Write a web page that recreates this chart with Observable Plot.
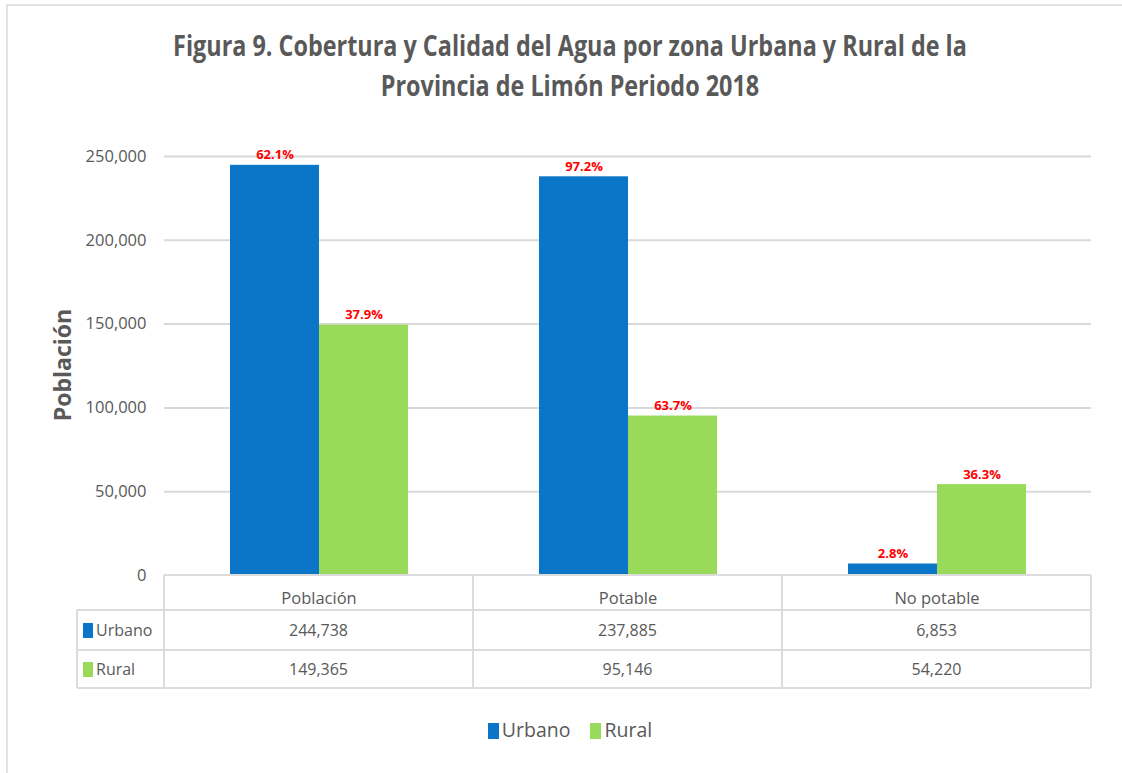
<!DOCTYPE html>
<html>
<head>
<meta charset="utf-8">
<script src="https://cdn.jsdelivr.net/npm/d3@7"></script>
<script src="https://cdn.jsdelivr.net/npm/@observablehq/plot@0.6"></script>
<style>
  html, body { margin: 0; padding: 0; background: #fff; }
  body { width: 1122px; height: 773px; position: relative; overflow: hidden; font-family: "Open Sans", sans-serif; color: #595959; }
  #frame { position: absolute; left: 6px; top: 4px; width: 1200px; height: 900px; border-left: 2px solid #e2e2e2; border-top: 2px solid #e2e2e2; }
  #title { position: absolute; top: 25px; left: 0; width: 1140px; text-align: center; font-family: "Open Sans", sans-serif; font-weight: bold; font-size: 28px; line-height: 40px; color: #595959; transform: scaleX(0.835); transform-origin: 570px 0; }
  #chart { position: absolute; top: 120px; left: 0; }
  #ylabel { position: absolute; left: 62px; top: 365px; transform: translate(-50%, -50%) rotate(-90deg); font-weight: bold; font-size: 23px; white-space: nowrap; }
  #table { position: absolute; left: 0; top: 0; }
  .hl, .vl { position: absolute; background: #dcdcdc; }
  .cell { position: absolute; text-align: center; font-size: 16px; white-space: nowrap; }
  .key { display: inline-block; vertical-align: -2px; margin-right: 3px; }
  #legend { position: absolute; top: 716px; left: 0; width: 1140px; text-align: center; font-size: 19.5px; }
  #legend span.item { margin: 0 10px; }
</style>
</head>
<body>
<div id="frame"></div>
<div id="title"></div>
<div id="chart"></div>
<div id="ylabel"></div>
<div id="table"></div>
<div id="legend"></div>
<script>
const titleLines = ["Figura 9. Cobertura y Calidad del Agua por zona Urbana y Rural de la", "Provincia de Limón Periodo 2018"];
const yLabel = "Población";
const categories = ["Población", "Potable", "No potable"];
const zones = ["Urbano", "Rural"];
const urbano = [244738, 237885, 6853];
const rural = [149365, 95146, 54220];
const urbanoPct = ["62.1%", "97.2%", "2.8%"];
const ruralPct = ["37.9%", "63.7%", "36.3%"];
const yTicks = [0, 50000, 100000, 150000, 200000, 250000];
const zoneColors = ["#0B75C7", "#9ADA5A"];

const fmt = d3.format(",");
const seriesValues = {Urbano: urbano, Rural: rural};
const seriesPct = {Urbano: urbanoPct, Rural: ruralPct};

const data = categories.flatMap((c, i) => zones.map(z => ({cat: c, zone: z, value: seriesValues[z][i], pct: seriesPct[z][i]})));

document.getElementById("title").innerHTML = titleLines.join("<br>");
document.getElementById("ylabel").textContent = yLabel;

// Layout constants
const W = 1122, H = 490, ML = 163, MR = 30, MT = 36, MB = 35;
const chartTop = 120;

const plot = Plot.plot({
  width: W, height: H,
  marginLeft: ML, marginRight: MR, marginTop: MT, marginBottom: MB,
  style: {fontFamily: "'Open Sans', sans-serif", color: "#595959", background: "transparent", overflow: "visible"},
  fx: {domain: categories, padding: 0, label: null},
  x: {domain: zones, paddingInner: 0, paddingOuter: 0.73, axis: null},
  y: {domain: [0, 250000], label: null},
  color: {domain: zones, range: zoneColors},
  marks: [
    Plot.gridY(yTicks.filter(d => d > 0), {stroke: "#d9d9d9", strokeOpacity: 1, strokeWidth: 2}),
    Plot.axisY(yTicks, {tickFormat: fmt, tickSize: 0, tickPadding: 18, fontSize: 16.5, label: null}),
    Plot.axisFx({anchor: "bottom", tickSize: 0, tickPadding: 17, fontSize: 16.5, label: null}),
    Plot.barY(data, {fx: "cat", x: "zone", y: "value", fill: "zone"}),
    Plot.text(data, {fx: "cat", x: "zone", y: "value", text: "pct", dy: -6, lineAnchor: "bottom", fill: "#FF0000", fontWeight: "bold", fontSize: 13})
  ]
});
document.getElementById("chart").appendChild(plot);

// Data table under the chart, aligned with the facet scale
const fxScale = plot.scale("fx");
const facetStep = fxScale.bandwidth;
const colEdges = categories.map(c => fxScale.apply(c));
const x0 = colEdges[0];
const rightEdge = colEdges[colEdges.length - 1] + facetStep;
const axisY = chartTop + H - MB;          // 575
const rowTops = [axisY, axisY + 35, axisY + 75, axisY + 113];
const leftCol = 77;
const table = document.getElementById("table");
function addDiv(cls, style, html) {
  const d = document.createElement("div");
  d.className = cls;
  Object.assign(d.style, style);
  if (html != null) d.innerHTML = html;
  table.appendChild(d);
  return d;
}
// horizontal lines
addDiv("hl", {left: x0 + "px", top: (rowTops[0] - 1) + "px", width: (rightEdge - x0) + "px", height: "2px"});
for (let r = 1; r < rowTops.length; r++) {
  addDiv("hl", {left: leftCol + "px", top: (rowTops[r] - 1) + "px", width: (rightEdge - leftCol) + "px", height: "2px"});
}
// vertical lines
[...colEdges, rightEdge].forEach(x => {
  addDiv("vl", {left: (x - 1) + "px", top: rowTops[0] + "px", width: "2px", height: (rowTops[3] - rowTops[0]) + "px"});
});
addDiv("vl", {left: (leftCol - 1) + "px", top: rowTops[1] + "px", width: "2px", height: (rowTops[3] - rowTops[1]) + "px"});
// row cells
zones.forEach((z, r) => {
  const top = rowTops[r + 1], h = rowTops[r + 2] - top;
  addDiv("cell", {left: leftCol + "px", top: top + "px", width: (x0 - leftCol) + "px", height: h + "px", lineHeight: h + "px", textAlign: "left", paddingLeft: "6px"},
    `<span class="key" style="width:10px;height:15px;background:${zoneColors[r]}"></span>${z}`);
  categories.forEach((c, i) => {
    addDiv("cell", {left: colEdges[i] + "px", top: top + "px", width: facetStep + "px", height: h + "px", lineHeight: h + "px"}, fmt(seriesValues[z][i]));
  });
});

// Legend
document.getElementById("legend").innerHTML = zones.map((z, i) =>
  `<span class="item"><span class="key" style="width:11px;height:16px;background:${zoneColors[i]}"></span>${z}</span>`).join("");
</script>
</body>
</html>
